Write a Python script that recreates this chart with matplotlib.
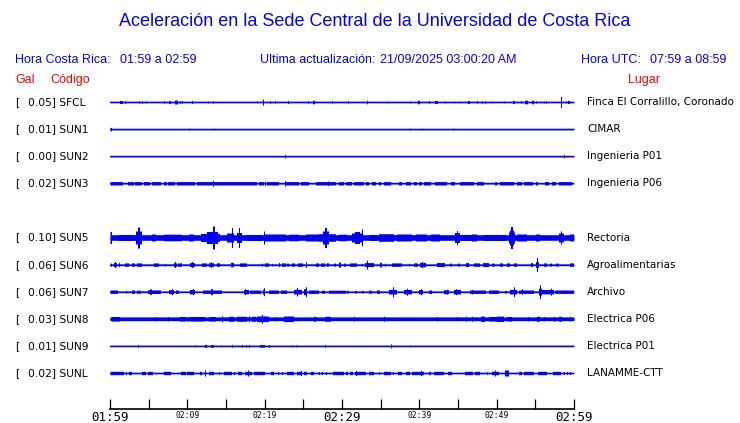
import numpy as np
import matplotlib
matplotlib.use("Agg")
import matplotlib.pyplot as plt
import matplotlib.transforms as mtransforms

# stations, top to bottom (row 4 is left empty in the display)
codes = ['SFCL', 'SUN1', 'SUN2', 'SUN3', 'SUN5', 'SUN6', 'SUN7', 'SUN8', 'SUN9', 'SUNL']
peaks = [0.05, 0.01, 0.00, 0.02, 0.10, 0.06, 0.06, 0.03, 0.01, 0.02]
places = ['Finca El Corralillo, Coronado', 'CIMAR', 'Ingenieria P01', 'Ingenieria P06',
          'Rectoria', 'Agroalimentarias', 'Archivo', 'Electrica P06', 'Electrica P01',
          'LANAMME-CTT']
rows = [0, 1, 2, 3, 5, 6, 7, 8, 9, 10]

# background noise half-amplitude of each trace (screen px)
base_amp = [0.7, 0.7, 0.7, 0.7, 2.8, 0.7, 0.7, 1.9, 0.7, 0.7]

# bursts: (start minute, end minute, half-amplitude px), minutes from 01:59
sfcl = [(1.29, 1.59, 1.5), (1.85, 1.85, 1.5), (3.66, 3.66, 1.3), (4.01, 4.01, 1.3),
        (4.53, 4.53, 1.0), (6.94, 6.94, 1.3), (7.54, 7.76, 1.5), (8.31, 8.70, 2.0),
        (9.05, 9.05, 1.3), (9.27, 9.27, 1.3), (10.56, 10.56, 1.5), (12.58, 12.58, 1.0),
        (13.23, 13.23, 1.3), (18.97, 18.97, 1.0), (19.7, 19.9, 3.0), (20.6, 20.6, 1.3),
        (21.25, 21.25, 1.3), (22.9, 23.1, 1.5), (25.57, 25.57, 1.3), (26.2, 26.45, 1.8),
        (28.67, 28.67, 1.3), (30.69, 30.69, 1.3), (33.2, 33.2, 1.8), (35.91, 35.91, 1.0),
        (38.67, 38.67, 1.0), (39.8, 40.0, 1.8), (41.16, 41.16, 1.3), (42.0, 42.4, 1.5),
        (43.23, 43.23, 1.0), (44.39, 44.39, 1.0), (45.04, 45.04, 1.0), (46.25, 46.45, 1.5),
        (47.42, 47.42, 1.3), (48.07, 48.07, 1.3), (48.49, 48.49, 1.3), (49.14, 49.14, 1.0),
        (50.86, 50.86, 1.0), (52.0, 52.3, 1.5), (53.02, 53.02, 1.3), (53.6, 54.0, 1.8),
        (54.5, 54.8, 1.8), (55.05, 55.05, 1.3), (56.03, 56.03, 1.0), (56.34, 56.34, 1.3),
        (58.2, 58.27, 5.5), (58.84, 58.84, 1.0), (59.2, 59.4, 1.5)]
sun1 = [(0.0, 0.13, 1.7), (10.13, 10.13, 1.0), (13.36, 13.36, 1.0), (38.67, 38.67, 1.0),
        (40.22, 40.22, 1.0), (44.31, 44.31, 1.0)]
sun2 = [(22.55, 22.55, 1.7), (58.67, 58.67, 1.7)]
sun3 = [(0.0, 1.6, 1.7), (2.28, 3.02, 1.7), (3.15, 4.09, 1.7), (4.31, 5.17, 1.7),
        (5.39, 6.47, 1.7), (6.9, 7.33, 1.7), (7.46, 8.32, 1.7), (8.62, 10.99, 1.7),
        (11.2, 18.97, 1.7), (13.23, 13.23, 3.0), (19.18, 19.83, 1.7), (19.96, 19.96, 2.3),
        (20.26, 21.77, 1.7), (22.54, 22.54, 2.7), (22.63, 24.35, 1.7), (24.57, 25.73, 1.7),
        (26.51, 29.1, 1.7), (28.15, 28.15, 2.3), (29.53, 30.17, 1.7), (30.39, 31.25, 1.7),
        (31.47, 32.76, 1.7), (33.06, 33.49, 1.7), (33.84, 34.35, 1.7), (34.7, 35.04, 1.7),
        (35.34, 36.21, 1.7), (37.28, 37.72, 1.7), (38.15, 38.92, 1.7), (39.22, 39.66, 1.7),
        (39.87, 40.3, 1.7), (40.52, 41.38, 1.7), (41.94, 43.53, 1.7), (44.09, 44.53, 1.7),
        (45.13, 46.98, 1.7), (47.41, 48.28, 1.7), (49.78, 50.0, 1.7), (50.43, 52.16, 1.7),
        (52.59, 53.23, 1.7), (53.45, 54.61, 1.7), (54.96, 55.3, 1.7), (56.25, 56.68, 1.7),
        (57.11, 57.63, 1.7), (57.97, 59.7, 1.7)]
sun5 = [(0.0, 0.15, 6.0), (1.08, 3.23, 3.0), (3.3, 4.05, 6.5), (3.55, 3.8, 10.5),
        (5.39, 5.82, 3.5), (6.9, 9.27, 3.3), (10.13, 10.78, 3.5), (11.64, 14.22, 4.0),
        (12.5, 13.9, 6.0), (13.2, 13.5, 11.5), (15.09, 15.95, 4.5), (15.73, 15.8, 10.0),
        (16.38, 17.03, 5.0), (16.6, 16.72, 10.0), (17.46, 19.61, 3.0), (19.83, 20.04, 6.5),
        (20.04, 22.63, 3.5), (23.06, 24.35, 3.3), (25.22, 26.94, 3.5), (26.94, 29.1, 3.8),
        (27.45, 28.3, 6.5), (27.7, 28.0, 10.0), (29.53, 30.6, 3.3), (31.25, 32.54, 4.5),
        (31.6, 32.2, 6.0), (32.5, 32.6, 8.5), (33.62, 34.48, 3.0), (34.7, 36.64, 3.8),
        (37.07, 39.01, 3.5), (39.44, 40.95, 3.5), (41.38, 42.67, 3.5), (44.53, 45.17, 5.0),
        (44.75, 44.85, 7.0), (45.17, 47.11, 3.0), (46.77, 47.41, 3.5), (48.28, 51.08, 3.0),
        (51.51, 52.37, 5.5), (51.7, 52.2, 7.5), (51.85, 52.0, 11.0), (52.59, 53.88, 3.5),
        (54.96, 55.6, 3.5), (57.97, 58.62, 4.5), (58.2, 58.3, 6.5), (59.4, 59.91, 3.5)]
sun6 = [(0.0, 0.13, 1.5), (0.43, 0.86, 2.0), (0.56, 0.56, 3.0), (1.08, 1.29, 2.0),
        (1.85, 2.37, 1.7), (2.72, 3.23, 1.7), (3.45, 4.09, 1.7), (5.6, 6.25, 1.7),
        (7.11, 7.11, 1.3), (8.19, 8.62, 1.8), (8.4, 8.4, 3.0), (8.75, 9.27, 1.7),
        (10.22, 10.91, 2.0), (10.56, 10.56, 3.0), (11.85, 12.5, 1.7), (12.8, 13.36, 2.0),
        (13.06, 13.06, 2.7), (13.79, 14.22, 1.8), (15.52, 15.95, 2.2), (16.81, 17.67, 1.7),
        (19.61, 19.61, 1.5), (20.04, 20.47, 1.7), (20.9, 20.9, 1.3), (21.77, 21.98, 2.0),
        (22.2, 22.63, 1.7), (22.84, 23.06, 1.5), (23.49, 23.92, 1.7), (24.27, 24.87, 1.7),
        (25.22, 25.43, 2.7), (26.51, 26.94, 1.7), (27.28, 27.72, 1.7), (28.02, 28.23, 1.7),
        (28.88, 29.1, 1.5), (29.53, 29.87, 2.5), (30.17, 30.39, 1.5), (31.03, 31.9, 1.7),
        (32.54, 32.54, 1.3), (32.97, 34.05, 2.0), (33.19, 33.19, 4.5), (34.83, 35.13, 2.3),
        (35.47, 35.65, 1.5), (36.42, 37.72, 1.7), (38.58, 38.58, 1.3), (39.31, 39.74, 1.7),
        (40.0, 40.86, 2.2), (40.3, 40.3, 3.0), (42.16, 43.19, 2.0), (43.88, 44.18, 1.5),
        (44.91, 45.17, 1.5), (46.03, 46.34, 2.0), (46.98, 47.84, 1.7), (48.19, 48.92, 2.0),
        (49.35, 49.66, 1.5), (50.34, 50.78, 1.7), (51.21, 51.72, 1.7), (52.16, 52.5, 1.7),
        (54.4, 54.66, 2.0), (54.96, 55.39, 3.0), (55.13, 55.13, 7.0), (56.12, 56.47, 1.7),
        (56.81, 57.11, 1.5), (57.67, 57.97, 1.5), (59.48, 59.91, 1.7)]
sun7 = [(0.0, 0.95, 1.7), (1.94, 1.94, 1.3), (2.72, 3.23, 1.7), (3.45, 3.88, 1.5),
        (4.87, 6.47, 1.8), (5.17, 5.39, 2.7), (7.54, 8.19, 2.0), (7.89, 7.89, 3.0),
        (8.49, 8.92, 1.7), (10.34, 10.99, 2.2), (10.65, 10.65, 3.0), (11.94, 14.44, 1.7),
        (13.06, 13.23, 3.0), (17.24, 17.89, 2.2), (17.37, 17.37, 3.0), (18.1, 19.4, 1.7),
        (19.7, 19.96, 2.5), (19.83, 19.83, 4.0), (20.47, 21.77, 1.7), (22.11, 22.84, 1.7),
        (23.71, 24.78, 2.3), (24.14, 24.14, 4.3), (25.04, 25.43, 3.0), (25.22, 25.22, 5.0),
        (25.65, 26.94, 1.7), (27.37, 27.8, 1.5), (28.23, 30.39, 1.5), (30.6, 30.82, 1.3),
        (31.68, 31.9, 1.3), (32.54, 32.76, 1.3), (33.41, 33.84, 1.5), (34.48, 34.91, 1.7),
        (35.99, 37.07, 2.3), (36.55, 36.55, 5.0), (37.93, 39.01, 2.2), (38.36, 38.36, 3.5),
        (39.87, 40.43, 2.2), (40.09, 40.09, 3.0), (41.16, 41.59, 1.7), (43.1, 43.75, 2.0),
        (43.45, 43.45, 2.5), (44.4, 45.26, 2.3), (44.74, 44.74, 3.0), (46.47, 48.62, 1.7),
        (46.77, 46.77, 2.3), (48.92, 50.22, 1.7), (51.03, 51.21, 1.3), (51.72, 52.59, 2.3),
        (52.16, 52.16, 5.0), (52.8, 54.74, 1.7), (53.23, 53.23, 3.0), (55.39, 55.82, 3.5),
        (55.6, 55.6, 7.0), (55.82, 57.33, 2.2), (56.9, 56.9, 3.5), (57.54, 59.91, 1.7)]
sun8 = [(0.22, 1.29, 2.3), (5.82, 5.82, 2.3), (7.46, 7.46, 2.3), (9.05, 9.7, 2.3),
        (10.04, 10.04, 2.5), (10.34, 12.28, 2.3), (12.72, 13.58, 2.3), (14.44, 14.44, 3.0),
        (15.3, 15.95, 2.5), (16.38, 17.67, 2.5), (17.89, 17.89, 3.0), (18.32, 18.75, 2.5),
        (18.97, 20.47, 2.8), (19.53, 19.53, 4.5), (21.34, 21.55, 2.3), (22.5, 23.79, 2.8),
        (26.29, 26.51, 2.5), (27.8, 28.45, 2.5), (31.47, 31.47, 2.5), (35.34, 35.34, 2.5),
        (42.24, 42.24, 2.3), (44.83, 44.83, 2.3), (45.91, 45.91, 2.5), (46.77, 46.77, 2.5),
        (47.93, 48.49, 2.7), (48.92, 50.0, 2.3), (50.0, 50.86, 2.7), (51.29, 51.94, 2.3),
        (53.97, 53.97, 2.3), (55.09, 55.6, 2.5), (56.12, 56.12, 2.3), (57.33, 57.33, 2.3),
        (57.97, 58.41, 2.5), (59.48, 59.48, 2.3)]
sun9 = [(3.53, 3.53, 1.5), (10.91, 10.91, 1.0), (12.28, 12.5, 1.5), (13.06, 13.36, 1.3),
        (14.35, 14.35, 1.0), (15.65, 15.86, 1.5), (16.94, 16.94, 1.3), (17.46, 17.46, 1.3),
        (17.89, 17.89, 1.3), (19.31, 20.04, 1.3), (20.47, 20.47, 1.3), (23.41, 23.41, 1.0),
        (24.05, 24.05, 1.0), (27.8, 27.8, 1.5), (36.21, 36.21, 2.0), (38.71, 38.71, 1.0)]
sunl = [(0.0, 1.72, 1.7), (1.94, 2.16, 1.7), (2.37, 2.72, 1.7), (4.01, 4.61, 1.7),
        (4.87, 5.47, 1.7), (6.9, 7.76, 1.7), (9.18, 9.78, 1.7), (9.91, 10.78, 1.7),
        (11.55, 11.85, 1.7), (12.16, 12.16, 3.0), (12.8, 13.36, 1.7), (14.01, 14.22, 1.7),
        (14.66, 15.65, 1.7), (15.95, 16.08, 1.7), (16.51, 17.03, 1.7), (17.37, 18.32, 1.7),
        (17.8, 17.8, 3.0), (18.53, 20.04, 1.7), (20.69, 21.12, 1.7), (21.68, 21.68, 1.5),
        (22.2, 22.2, 1.5), (22.84, 23.71, 1.7), (24.14, 24.78, 1.7), (24.57, 24.57, 2.5),
        (25.0, 25.43, 1.7), (25.95, 26.29, 1.7), (26.94, 26.94, 1.5), (27.37, 27.37, 1.5),
        (27.93, 27.93, 1.5), (28.79, 30.17, 1.7), (30.39, 30.69, 1.7), (31.03, 31.38, 1.7),
        (31.68, 33.1, 1.7), (31.81, 31.81, 2.5), (33.41, 34.05, 1.7), (34.7, 34.7, 1.5),
        (35.43, 36.29, 1.7), (36.55, 36.55, 1.5), (37.16, 37.72, 1.7), (38.15, 38.79, 1.7),
        (39.01, 40.52, 1.7), (40.09, 40.09, 2.5), (41.16, 41.38, 1.7), (41.81, 43.1, 1.7),
        (43.62, 44.18, 1.7), (45.78, 46.9, 1.7), (47.07, 47.84, 1.7), (48.71, 48.71, 1.5),
        (49.35, 50.22, 1.7), (49.78, 49.78, 3.0), (51.03, 51.51, 3.0), (52.8, 53.23, 1.7),
        (53.53, 54.74, 1.7), (55.26, 56.47, 1.7), (57.24, 58.28, 1.7), (58.62, 58.62, 1.5),
        (59.05, 59.05, 1.5), (59.48, 59.48, 1.5)]
bursts = [sfcl, sun1, sun2, sun3, sun5, sun6, sun7, sun8, sun9, sunl]

major_ticks = [0, 10, 20, 30, 40, 50, 60]
major_labels = ['01:59', '02:09', '02:19', '02:29', '02:39', '02:49', '02:59']
minor_ticks = [5, 15, 25, 35, 45, 55]
big_labels = ['01:59', '02:29', '02:59']

BLUE = '#0000ff'
RED = '#ff0000'
W, H = 740, 423
ROW_PX = 27.1          # vertical spacing between traces in pixels
N_COLS = 464           # one envelope sample per screen column


def envelope(base, blist, t):
    env = np.full(t.size, base)
    for t0, t1, a in blist:
        i0 = np.searchsorted(t, t0, side='left')
        i1 = max(i0 + 1, np.searchsorted(t, t1, side='right'))
        env[i0:i1] = np.maximum(env[i0:i1], a)
    return env


fig = plt.figure(figsize=(W / 100, H / 100), dpi=100)
fig.patch.set_facecolor('white')

# trace panel
top = 102 - ROW_PX / 2
ax = fig.add_axes([110 / W, 1 - (top + 11 * ROW_PX) / H, 464 / W, 11 * ROW_PX / H])
ax.set_xlim(0, 60)
ax.set_ylim(10.5, -0.5)
ax.axis('off')

t = np.linspace(0, 60, N_COLS + 1)
for i in range(len(codes)):
    y = rows[i]
    env = envelope(base_amp[i], bursts[i], t) / ROW_PX
    ax.fill_between(t, y - env, y + env, step='mid', color=BLUE, lw=0)
    ax.plot([0, 60], [y, y], color=BLUE, lw=1.0)

# station labels
trans = mtransforms.blended_transform_factory(fig.transFigure, ax.transData)
for i in range(len(codes)):
    y = rows[i]
    ax.text(15 / W, y, '[', transform=trans, ha='left', va='center',
            fontsize=7.7, family='DejaVu Sans')
    ax.text(27.5 / W, y, f'{peaks[i]:.2f}] {codes[i]}', transform=trans,
            ha='left', va='center', fontsize=7.7, family='DejaVu Sans')
    ax.text(587 / W, y, places[i], transform=trans, ha='left', va='center',
            fontsize=7.5, family='DejaVu Sans')

# time axis
ax2 = fig.add_axes([110 / W, 1 - 409 / H, 464 / W, 0.01])
ax2.set_xlim(0, 60)
ax2.set_yticks([])
for s in ['top', 'left', 'right']:
    ax2.spines[s].set_visible(False)
ax2.spines['bottom'].set_linewidth(1.2)
ax2.patch.set_alpha(0)
ax2.set_xticks(major_ticks)
ax2.set_xticklabels(major_labels, family='DejaVu Sans Mono')
ax2.set_xticks(minor_ticks, minor=True)
ax2.tick_params(axis='x', which='both', direction='in', length=7.5, width=0.9, pad=1.5)
for lab in ax2.get_xticklabels():
    lab.set_fontsize(9 if lab.get_text() in big_labels else 5.8)

# header texts
fig.text(375 / W, 1 - 22 / H, 'Aceleración en la Sede Central de la Universidad de Costa Rica',
         ha='center', va='center', fontsize=13, color=BLUE, family='Liberation Sans')
hdr = dict(va='center', fontsize=9, color=BLUE, family='Liberation Sans')
fig.text(15 / W, 1 - 60 / H, 'Hora Costa Rica:', **hdr)
fig.text(120 / W, 1 - 60 / H, '01:59 a 02:59', **hdr)
fig.text(260 / W, 1 - 60 / H, 'Ultima actualización:', **hdr)
fig.text(380 / W, 1 - 60 / H, '21/09/2025 03:00:20 AM', **hdr)
fig.text(581 / W, 1 - 60 / H, 'Hora UTC:', **hdr)
fig.text(650 / W, 1 - 60 / H, '07:59 a 08:59', **hdr)
red = dict(va='center', fontsize=9, color=RED, family='Liberation Sans')
fig.text(15 / W, 1 - 80 / H, 'Gal', **red)
fig.text(50 / W, 1 - 80 / H, 'Código', **red)
fig.text(628 / W, 1 - 80 / H, 'Lugar', **red)

fig.savefig('out.png', dpi=100)
